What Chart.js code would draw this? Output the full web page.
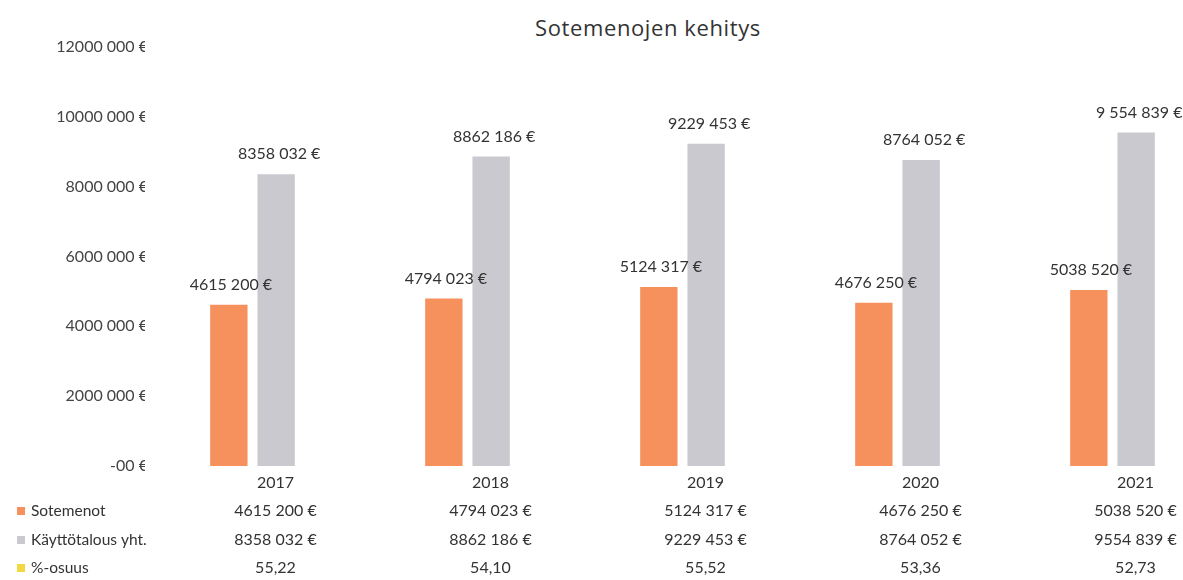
<!DOCTYPE html>
<html lang="fi">
<head>
<meta charset="utf-8">
<title>Sotemenojen kehitys</title>
<script src="https://cdn.jsdelivr.net/npm/chart.js@4"></script>
<style>
  html, body { margin: 0; padding: 0; background: #fff; }
  body { width: 1183px; height: 580px; overflow: hidden; position: relative; }
  #title {
    position: absolute; top: 12px; left: 448px; width: 400px;
    text-align: center; font: 22px "Open Sans", sans-serif; color: #333;
    letter-spacing: 0.6px;
  }
  canvas { position: absolute; left: 0; top: 0; }
</style>
</head>
<body>
<div id="title">Sotemenojen kehitys</div>
<canvas id="chart" width="1222" height="580"></canvas>
<script>
// --- DATA ---
const years = ['2017', '2018', '2019', '2020', '2021'];
const sotemenot = [4615200, 4794023, 5124317, 4676250, 5038520];
const kayttotalous = [8358032, 8862186, 9229453, 8764052, 9554839];
const osuus = ['55,22', '54,10', '55,52', '53,36', '52,73'];
const kayttoBarLabels = ['8358 032 €', '8862 186 €', '9229 453 €', '8764 052 €', '9 554 839 €'];
const yTickLabels = ['-00 €', '2000 000 €', '4000 000 €', '6000 000 €', '8000 000 €', '10000 000 €', '12000 000 €'];

// --- STYLE ---
const ORANGE = '#F6915D';
const GREY = '#C9C9CF';
const YELLOW = '#F2D843';
const TEXT = '#333';
const FONT = 'Lato, "Open Sans", sans-serif';

// --- HELPERS ---
function fmtEuro(v) {
    const s = String(v);
    return s.slice(0, -3) + ' ' + s.slice(-3) + ' €';
}

// draws value labels above bars and the data table under the axis
const tablePlugin = {
    id: 'dataTable',
    afterDatasetsDraw(chart) {
        const ctx = chart.ctx;
        const xs = chart.scales.x;
        ctx.save();
        ctx.fillStyle = TEXT;
        ctx.font = '16px ' + FONT;
        ctx.textAlign = 'center';
        ctx.textBaseline = 'middle';

        chart.getDatasetMeta(0).data.forEach((bar, i) => {
            ctx.fillText(fmtEuro(sotemenot[i]), bar.x + 2, bar.y - 20);
        });
        chart.getDatasetMeta(1).data.forEach((bar, i) => {
            ctx.fillText(kayttoBarLabels[i], bar.x + 3, bar.y - 20);
        });

        // table rows
        const rows = [
            { name: 'Sotemenot', color: ORANGE, y: 511, cells: sotemenot.map(fmtEuro) },
            { name: 'Käyttötalous yht.', color: GREY, y: 540, cells: kayttotalous.map(fmtEuro) },
            { name: '%-osuus', color: YELLOW, y: 568, cells: osuus }
        ];
        rows.forEach(row => {
            ctx.fillStyle = row.color;
            ctx.fillRect(17, row.y - 4, 8, 8);
            ctx.fillStyle = TEXT;
            ctx.font = '15.5px ' + FONT;
            ctx.textAlign = 'left';
            ctx.fillText(row.name, 31, row.y);
            ctx.font = '16px ' + FONT;
            ctx.textAlign = 'center';
            row.cells.forEach((txt, i) => {
                ctx.fillText(txt, xs.getPixelForValue(i) + 23, row.y);
            });
        });
        ctx.restore();
    }
};

// --- CHART ---
new Chart(document.getElementById('chart'), {
    type: 'bar',
    data: {
        labels: years,
        datasets: [
            { label: 'Sotemenot', data: sotemenot, backgroundColor: ORANGE },
            { label: 'Käyttötalous yht.', data: kayttotalous, backgroundColor: GREY }
        ]
    },
    options: {
        responsive: false,
        animation: false,
        devicePixelRatio: 1,
        layout: { padding: { top: 47, right: 2, bottom: 84, left: 0 } },
        datasets: { bar: { categoryPercentage: 0.44, barPercentage: 0.79 } },
        plugins: {
            legend: { display: false },
            tooltip: { enabled: false }
        },
        scales: {
            x: {
                grid: { display: false, drawTicks: false },
                border: { display: false },
                ticks: { color: TEXT, font: { family: FONT, size: 16 }, padding: 7, labelOffset: 23 },
                afterFit: s => { s.height = 30; }
            },
            y: {
                min: 0, max: 12000000,
                grid: { display: false, drawTicks: false },
                border: { display: false },
                ticks: {
                    stepSize: 2000000,
                    color: '#444',
                    font: { family: FONT, size: 16 },
                    padding: -3,
                    callback: (v, i) => yTickLabels[i]
                },
                afterFit: s => { s.width = 145; }
            }
        }
    },
    plugins: [tablePlugin]
});
</script>
</body>
</html>
